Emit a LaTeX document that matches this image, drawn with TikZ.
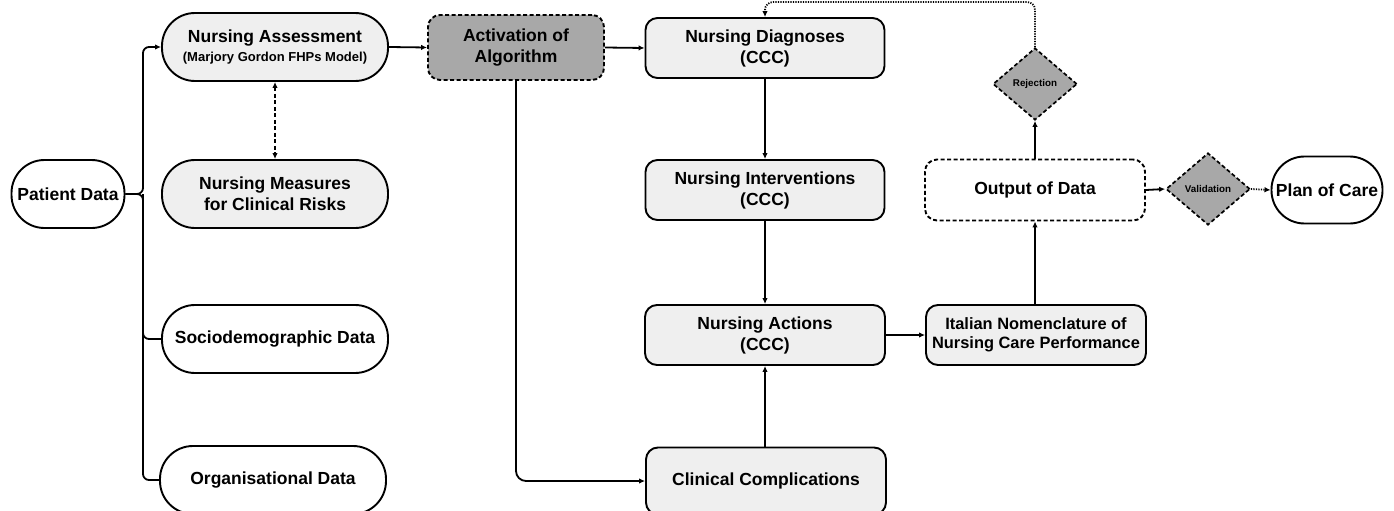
\documentclass[tikz,border=0pt]{standalone}
\usepackage{fontspec}
\setmainfont{Liberation Sans}
\usetikzlibrary{shapes.geometric,arrows.meta}
\definecolor{lightfill}{HTML}{EFEFEF}
\definecolor{darkfill}{HTML}{A8A8A8}
\begin{document}
\begin{tikzpicture}[x=1pt,y=-1pt,
  box/.style={draw=black, line width=1.9pt, align=center, inner sep=0pt,
    font=\bfseries\fontsize{17.5}{21}\selectfont},
  stadium/.style={box, rounded corners=33pt, minimum width=226pt, minimum height=68pt},
  rbox/.style={box, rounded corners=12pt, minimum width=239pt, minimum height=60pt},
  light/.style={fill=lightfill},
  white/.style={fill=white},
  dashedline/.style={dash pattern=on 4pt off 2.5pt},
  dottedline/.style={dash pattern=on 1.2pt off 1.3pt},
  dec/.style={shape=diamond, draw=black, line width=1.7pt, fill=darkfill, dashedline,
    minimum width=84pt, minimum height=72pt, inner sep=0pt,
    font=\bfseries\fontsize{9.8}{11}\selectfont},
  conn/.style={draw=black, line width=1.8pt},
  arr/.style={conn, -{Latex[length=6pt,width=5.5pt]}},
]
\useasboundingbox (0,0) rectangle (1394,511);
\clip (0,0) rectangle (1394,511);

% nodes
\node[stadium, white, minimum width=113pt, rounded corners=33pt] (pd) at (68,194) {Patient Data};
\node[stadium, light] (na) at (275,47) {Nursing Assessment\\[-2pt]{\fontsize{13}{15}\selectfont(Marjory Gordon FHPs Model)}};
\node[stadium, light] (nm) at (275,194) {Nursing Measures\\for Clinical Risks};
\node[stadium, white] (sd) at (275,339) {Sociodemographic Data};
\node[stadium, white] (od) at (273,480) {Organisational Data};

\node[rbox, fill=darkfill, dashedline, minimum width=176pt, minimum height=65pt] (act) at (516,47.5) {Activation of\\Algorithm};
\node[rbox, light] (nd) at (765,48) {Nursing Diagnoses\\(CCC)};
\node[rbox, light] (ni) at (765,190) {Nursing Interventions\\(CCC)};
\node[rbox, light, minimum width=240pt] (nac) at (765,335) {Nursing Actions\\(CCC)};
\node[rbox, light, minimum width=240pt, minimum height=67pt] (cc) at (766,481) {Clinical Complications};
\node[rbox, light, minimum width=220pt, font=\bfseries\fontsize{16.4}{19.5}\selectfont] (it) at (1036,335) {Italian Nomenclature of\\Nursing Care Performance};
\node[rbox, white, dashedline, minimum width=220pt, minimum height=61pt] (out) at (1035,190) {Output of Data};
\node[dec] (rej) at (1035,84) {Rejection};
\node[dec] (val) at (1208,189) {Validation};
\node[stadium, white, minimum width=111pt, minimum height=67pt] (pc) at (1327,190) {Plan of Care};

% connectors
\coordinate (sp) at (143,194);
\coordinate (loop) at (900,2);
\draw[arr, rounded corners=6pt] (pd.east) -- (sp) |- (na.west);
\draw[conn, rounded corners=6pt] (pd.east) -- (sp) |- (sd.west);
\draw[conn, rounded corners=6pt] (sp) |- (od.west);
\draw[conn, dashedline, {Latex[length=6pt,width=5.5pt]}-{Latex[length=6pt,width=5.5pt]}] (na.south) -- (nm.north);
\draw[arr] (na.east) -- (act.west);
\draw[arr] (act.east) -- (nd.west);
\draw[arr, rounded corners=10pt] (act.south) |- (cc.west);
\draw[arr] (nd.south) -- (ni.north);
\draw[arr] (ni.south) -- (nac.north);
\draw[arr] (cc.north -| nac.south) -- (nac.south);
\draw[arr] (nac.east) -- (it.west);
\draw[arr] (it.north -| out.south) -- (out.south);
\draw[arr] (out.north) -- (rej.south);
\draw[arr, dottedline, rounded corners=8pt] (rej.north) |- (loop) -| (nd.north);
\draw[arr] (out.east) -- (val.west);
\draw[arr, dottedline] (val.east) -- (pc.west);
\end{tikzpicture}
\end{document}
